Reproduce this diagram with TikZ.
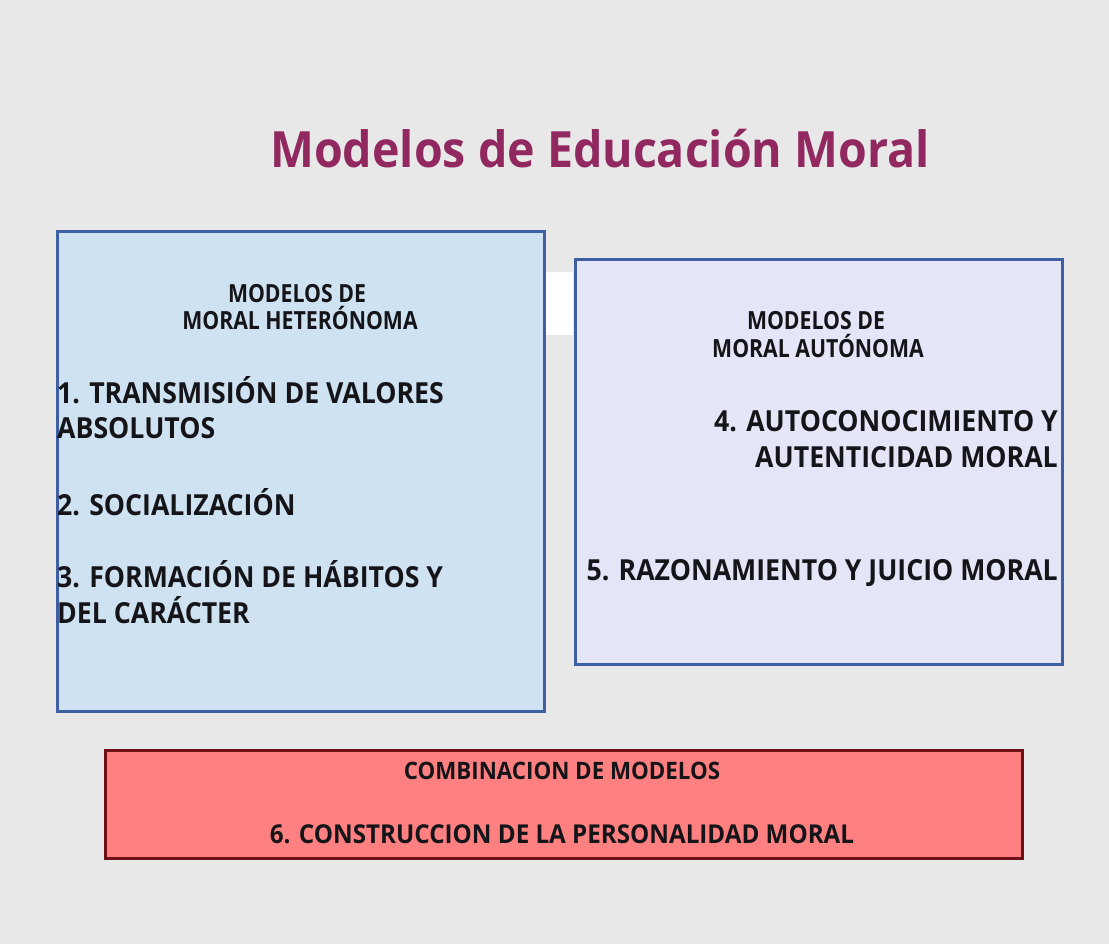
\documentclass[tikz,border=0pt]{standalone}
\usepackage{fontspec}
\setmainfont{Open Sans}
\newfontfamily\titlefont[FakeStretch=0.93]{Open Sans Bold}
\newfontfamily\boxfont[FakeStretch=0.92]{Open Sans Bold}
\newfontfamily\headfont[FakeStretch=0.85]{Open Sans Bold}
\newfontfamily\combfont[FakeStretch=0.93]{Open Sans Bold}
\definecolor{bgcol}{RGB}{232,232,232}
\definecolor{titlecol}{RGB}{145,40,95}
\definecolor{bluebd}{RGB}{62,96,162}
\definecolor{bluefill}{RGB}{207,226,242}
\definecolor{lavfill}{RGB}{229,229,248}
\definecolor{redfill}{RGB}{255,128,128}
\definecolor{redbd}{RGB}{110,15,22}
\definecolor{txt}{RGB}{20,20,25}
\tikzset{
  panel/.style={draw=bluebd, line width=3pt, inner sep=0pt},
  head/.style={font=\headfont\fontsize{25}{28}\selectfont, text=txt, inner sep=0pt, anchor=base},
  item/.style={font=\boxfont\fontsize{29}{35.5}\selectfont, text=txt, inner sep=0pt},
  comb/.style={text=txt, inner sep=0pt, anchor=base}
}
\begin{document}
\begin{tikzpicture}[x=1pt,y=-1pt]
\fill[bgcol] (0,0) rectangle (1109,944);
\useasboundingbox (0,0) rectangle (1109,944);
\fill[white] (545,272) rectangle (573,335);
\node[font=\titlefont\fontsize{50}{55}\selectfont, text=titlecol, inner sep=0pt, anchor=base] (title) at (600,168) {Modelos de Educación Moral};
% left panel
\node[panel, fill=bluefill, minimum width=487pt, minimum height=480pt, anchor=north west] (left) at (56,230) {};
\node[head] (lhead1) at (297,302) {MODELOS DE};
\node[head] (lhead2) at (300,330) {MORAL HETERÓNOMA};
\node[item, anchor=base west] (i1a) at (57,403) {1. TRANSMISIÓN DE VALORES};
\node[item, anchor=base west] (i1b) at (57,438) {ABSOLUTOS};
\node[item, anchor=base west] (i2) at (57,515) {2. SOCIALIZACIÓN};
\node[item, anchor=base west] (i3a) at (57,587) {3. FORMACIÓN DE HÁBITOS Y};
\node[item, anchor=base west] (i3b) at (57,623) {DEL CARÁCTER};
% right panel
\node[panel, fill=lavfill, minimum width=487pt, minimum height=405pt, anchor=north west] (right) at (574,258) {};
\node[head] (rhead1) at (816,329) {MODELOS DE};
\node[head] (rhead2) at (818,357) {MORAL AUTÓNOMA};
\node[item, anchor=base east] (i4a) at (1058,431) {4. AUTOCONOCIMIENTO Y};
\node[item, anchor=base east] (i4b) at (1058,467) {AUTENTICIDAD MORAL};
\node[item, anchor=base east] (i5) at (1058,580) {5. RAZONAMIENTO Y JUICIO MORAL};
% bottom
\node[draw=redbd, line width=3pt, fill=redfill, minimum width=917pt, minimum height=108pt, anchor=north west, inner sep=0pt] (bottom) at (104,749) {};
\node[comb, font=\combfont\fontsize{24}{28}\selectfont] (c1) at (562,779) {COMBINACION DE MODELOS};
\node[comb, font=\combfont\fontsize{26}{30}\selectfont] (c2) at (562,843) {6. CONSTRUCCION DE LA PERSONALIDAD MORAL};
\end{tikzpicture}
\end{document}
